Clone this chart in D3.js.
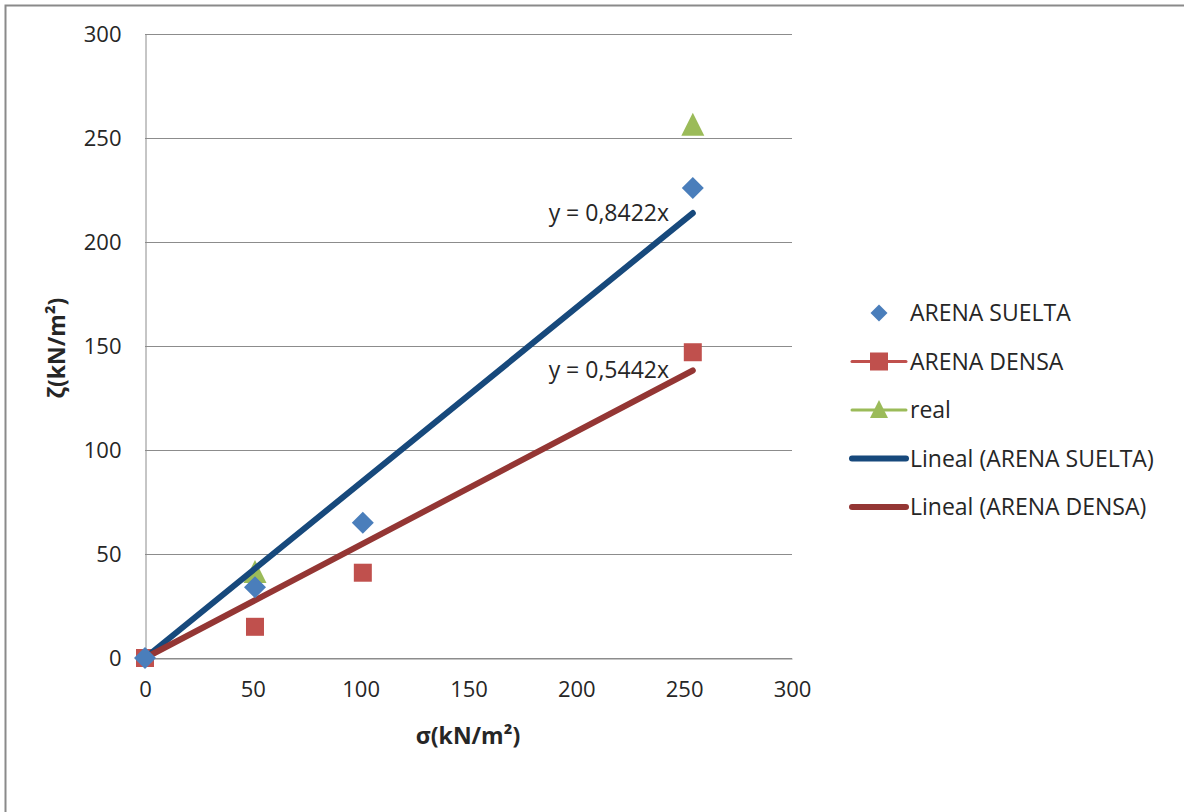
<!DOCTYPE html>
<html>
<head>
<meta charset="utf-8">
<script src="https://cdn.jsdelivr.net/npm/d3@7"></script>
<style>
  html, body { margin: 0; padding: 0; background: #fff; }
  svg { display: block; font-family: "Open Sans", sans-serif; }
</style>
</head>
<body>
<svg id="chart" width="1184" height="812"></svg>
<script>
// Normal stress σ (kN/m²) for each test
const sigma = [0, 51, 101, 254];
// Shear stress ζ (kN/m²) per series
const arenaSuelta = [0, 34, 65, 226];
const arenaDensa = [0, 15, 41, 147];
const realSigma = [51, 254];
const realTau = [41, 256];
// Linear trendlines through the origin
const slopeSuelta = 0.8422;
const slopeDensa = 0.5442;
const xTicks = [0, 50, 100, 150, 200, 250, 300];
const yTicks = [0, 50, 100, 150, 200, 250, 300];
const legendLabels = ["ARENA SUELTA", "ARENA DENSA", "real", "Lineal (ARENA SUELTA)", "Lineal (ARENA DENSA)"];

const colors = {
  suelta: "#4A7EBB",
  densa: "#C0504D",
  real: "#9BBB59",
  trendSuelta: "#17497C",
  trendDensa: "#943634",
  grid: "#8C8C8C",
  text: "#262626"
};

const svg = d3.select("#chart");

// outer chart frame
svg.append("rect")
  .attr("x", 5.5).attr("y", 5.5)
  .attr("width", 1190).attr("height", 820)
  .attr("fill", "none").attr("stroke", "#8a8a8a").attr("stroke-width", 2);

const x = d3.scaleLinear().domain([0, 300]).range([145, 792]);
const y = d3.scaleLinear().domain([0, 300]).range([658, 34]);

// horizontal gridlines
svg.append("g")
  .selectAll("line")
  .data(yTicks)
  .join("line")
  .attr("x1", x(0)).attr("x2", x(300))
  .attr("y1", d => Math.round(y(d)) + 0.5).attr("y2", d => Math.round(y(d)) + 0.5)
  .attr("stroke", colors.grid).attr("stroke-width", 1);

// axes
const yAxis = svg.append("g")
  .attr("transform", `translate(${Math.round(x(0)) + 0.5},0)`)
  .call(d3.axisLeft(y).tickValues(yTicks).tickSize(0).tickPadding(24));
const xAxis = svg.append("g")
  .attr("transform", `translate(0,${Math.round(y(0)) + 0.5})`)
  .call(d3.axisBottom(x).tickValues(xTicks).tickSize(0).tickPadding(23));
[xAxis, yAxis].forEach(a => {
  a.select(".domain").attr("stroke", colors.grid).attr("stroke-width", 1);
  a.selectAll("text")
    .attr("fill", colors.text)
    .style("font-family", "'Open Sans', sans-serif")
    .style("font-size", "22px");
});

// axis titles
svg.append("text")
  .attr("x", 468).attr("y", 744)
  .attr("text-anchor", "middle")
  .attr("font-weight", "bold").attr("font-size", "23px").attr("fill", colors.text)
  .text("σ(kN/m²)");
svg.append("text")
  .attr("transform", "translate(65,348) rotate(-90)")
  .attr("text-anchor", "middle")
  .attr("font-weight", "bold").attr("font-size", "23px").attr("fill", colors.text)
  .text("ζ(kN/m²)");

// marker shapes
const diamond = (cx, cy, r) => `M${cx},${cy - r}L${cx + r},${cy}L${cx},${cy + r}L${cx - r},${cy}Z`;
const triangle = (cx, cy, s) => `M${cx},${cy - s * 0.55}L${cx + s / 2},${cy + s * 0.45}L${cx - s / 2},${cy + s * 0.45}Z`;

// real series
svg.append("g")
  .selectAll("path")
  .data(realSigma.map((s, i) => [s, realTau[i]]))
  .join("path")
  .attr("d", d => triangle(x(d[0]), y(d[1]), 23))
  .attr("fill", colors.real);

// ARENA DENSA series
svg.append("g")
  .selectAll("rect")
  .data(sigma.map((s, i) => [s, arenaDensa[i]]))
  .join("rect")
  .attr("x", d => x(d[0]) - 9).attr("y", d => y(d[1]) - 9)
  .attr("width", 18).attr("height", 18)
  .attr("fill", colors.densa);

// trendlines
const xMax = d3.max(sigma);
const trends = [
  { slope: slopeSuelta, color: colors.trendSuelta, label: "y = 0,8422x" },
  { slope: slopeDensa, color: colors.trendDensa, label: "y = 0,5442x" }
];
svg.append("g")
  .selectAll("line")
  .data(trends)
  .join("line")
  .attr("x1", x(0)).attr("y1", y(0))
  .attr("x2", x(xMax)).attr("y2", d => y(d.slope * xMax))
  .attr("stroke", d => d.color).attr("stroke-width", 6)
  .attr("stroke-linecap", "round");

// ARENA SUELTA series
svg.append("g")
  .selectAll("path")
  .data(sigma.map((s, i) => [s, arenaSuelta[i]]))
  .join("path")
  .attr("d", d => diamond(x(d[0]), y(d[1]), 11))
  .attr("fill", colors.suelta);

// trendline equations
svg.append("g")
  .selectAll("text")
  .data(trends)
  .join("text")
  .attr("x", 669)
  .attr("y", d => y(d.slope * xMax) + 8)
  .attr("text-anchor", "end")
  .attr("font-size", "23px").attr("fill", colors.text)
  .text(d => d.label);

// legend
const legend = svg.append("g");
const rowY = i => 313 + i * 48.5;
const items = legendLabels.map((label, i) => ({ label, i }));
const legendLine = [null, colors.densa, colors.real, colors.trendSuelta, colors.trendDensa];
const legendWidth = [0, 3, 3, 6, 6];
items.forEach(({ label, i }) => {
  const cy = rowY(i);
  if (legendLine[i]) {
    legend.append("line")
      .attr("x1", 852).attr("x2", 906).attr("y1", cy).attr("y2", cy)
      .attr("stroke", legendLine[i]).attr("stroke-width", legendWidth[i])
      .attr("stroke-linecap", "round");
  }
  if (i === 0) legend.append("path").attr("d", diamond(879, cy, 8.5)).attr("fill", colors.suelta);
  if (i === 1) legend.append("rect").attr("x", 870).attr("y", cy - 9).attr("width", 18).attr("height", 18).attr("fill", colors.densa);
  if (i === 2) legend.append("path").attr("d", triangle(879, cy, 18)).attr("fill", colors.real);
  legend.append("text")
    .attr("x", 910).attr("y", cy + 8)
    .attr("font-size", "23px").attr("fill", colors.text)
    .text(label);
});
</script>
</body>
</html>
